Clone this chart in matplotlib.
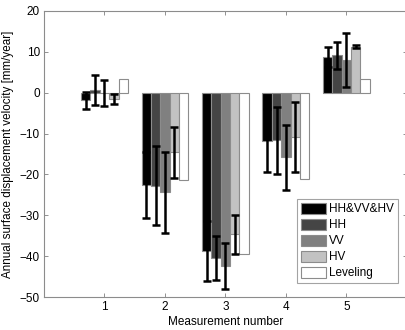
import numpy as np
import matplotlib.pyplot as plt

plt.rcParams['font.family'] = ['Liberation Sans', 'DejaVu Sans']

measurements = [1, 2, 3, 4, 5]
series_names = ['HH&VV&HV', 'HH', 'VV', 'HV', 'Leveling']

# velocities [mm/year]
hhvvhv = [-1.9, -22.6, -38.7, -11.7, 8.8]
hh = [0.6, -22.8, -40.5, -11.6, 9.2]
vv = [-0.1, -24.4, -42.4, -15.8, 8.0]
hv = [-1.6, -14.6, -34.7, -10.9, 11.3]
leveling = [3.4, -21.4, -39.5, -21.1, 3.4]

# error bar half-lengths
hhvvhv_err = [2.0, 8.1, 7.4, 7.6, 2.5]
hh_err = [3.7, 9.7, 5.4, 8.2, 3.3]
vv_err = [3.2, 10.0, 5.7, 8.0, 6.7]
hv_err = [1.2, 6.2, 4.8, 8.6, 0.4]

values = [hhvvhv, hh, vv, hv, leveling]
errors = [hhvvhv_err, hh_err, vv_err, hv_err, None]
colors = ['0.0', '0.27', '0.5', '0.76', '1.0']

fig = plt.figure(figsize=(4.05, 3.3), dpi=100)
ax = fig.add_axes([0.1086, 0.1, 0.896, 0.8667])

x = np.array(measurements, dtype=float)
w = 0.155
for i in range(5):
    xi = x + (i - 2) * w
    ax.bar(xi, values[i], width=w, color=colors[i], edgecolor='0.55',
           linewidth=0.8, label=series_names[i], zorder=2)
for i in range(5):
    if errors[i] is None:
        continue
    xi = x + (i - 2) * w
    ax.errorbar(xi, values[i], yerr=errors[i], fmt='none', ecolor='black',
                elinewidth=1.8, capsize=2.6, capthick=1.8, zorder=3)

ax.set_xlim(0, 6)
ax.set_ylim(-50, 20)
ax.set_xticks(measurements)
ax.set_yticks(np.arange(-50, 21, 10))
ax.tick_params(direction='in', top=True, right=True, length=3, color='0.5',
               labelsize=8.5, width=0.6, pad=3)
for s in ax.spines.values():
    s.set_color('0.55')
    s.set_linewidth(0.8)

ax.set_xlabel('Measurement number', fontsize=8.5, labelpad=2)
ax.set_ylabel('Annual surface displacement velocity [mm/year]', fontsize=8.4)
ax.yaxis.set_label_coords(-0.083, 0.5)

leg = ax.legend(loc='lower right', bbox_to_anchor=(0.975, 0.049), borderaxespad=0,
                fontsize=8.5, fancybox=False, handlelength=2.1, handleheight=1.05,
                handletextpad=0.3, labelspacing=0.3, borderpad=0.3)
leg.get_frame().set_edgecolor('0.55')
leg.get_frame().set_linewidth(0.8)

plt.savefig('out.png', dpi=100)
